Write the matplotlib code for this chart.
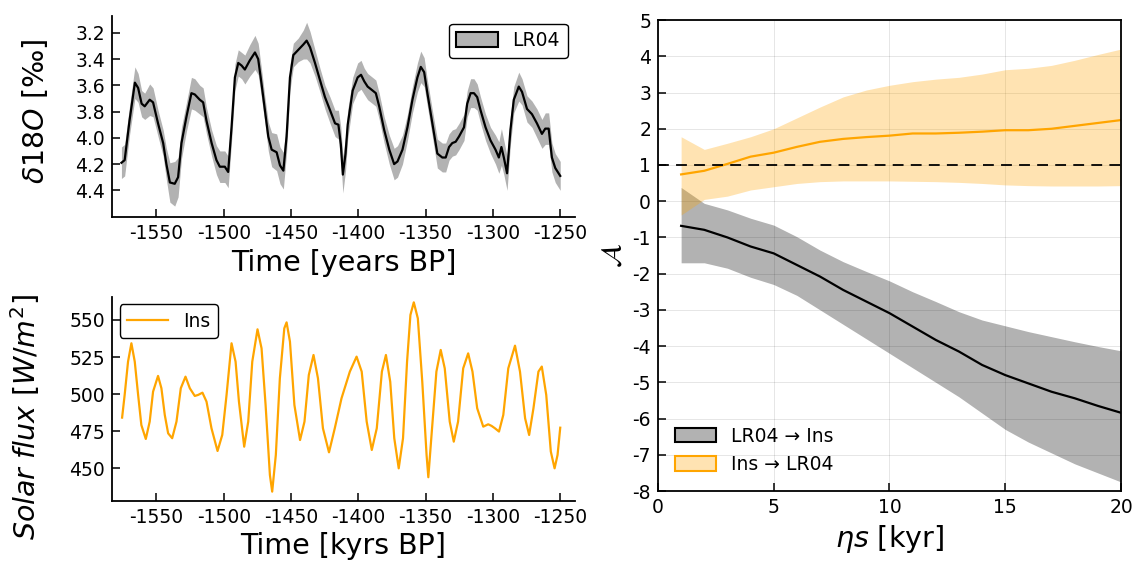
import numpy as np
import matplotlib.pyplot as plt
from matplotlib.patches import Patch
from matplotlib.lines import Line2D

plt.rcParams['axes.unicode_minus'] = False

# LR04 d18O stack (years BP), value and band half-width
lr04_t = [-1576, -1573.6, -1570, -1566, -1563.6, -1561, -1558.7, -1555, -1552.5, -1548.8,
          -1545, -1542.6, -1540, -1536.4, -1533.9, -1531.4, -1527.7, -1524, -1521.5, -1517.8,
          -1515.3, -1512.8, -1509, -1505.4, -1502.9, -1499.2, -1496.7, -1494.2, -1491.7, -1489.2,
          -1486.7, -1484.3, -1480.6, -1476.8, -1474.4, -1471.9, -1469.4, -1466.9, -1464.4, -1460.7,
          -1458.2, -1455.7, -1453.3, -1450.8, -1448.3, -1444.6, -1440.9, -1438.4, -1435.9, -1432.2,
          -1428.5, -1424.8, -1421, -1417.3, -1414.8, -1413, -1411.5, -1409.5, -1407.9, -1404.2,
          -1400.5, -1398, -1395.6, -1393.1, -1389.4, -1387, -1384.5, -1380.8, -1377, -1373.4,
          -1370.9, -1367.2, -1363.5, -1359.8, -1356.1, -1353.6, -1351.1, -1348.7, -1345, -1341.3,
          -1337.6, -1335.1, -1332.6, -1330.2, -1327.7, -1325.2, -1321.5, -1319.1, -1316.6, -1314.1,
          -1311.7, -1309.2, -1305.5, -1301.8, -1298.1, -1295.6, -1293.7, -1291.9, -1289.5, -1287,
          -1284.5, -1280.8, -1278.4, -1274.7, -1271, -1267.3, -1263.6, -1261.1, -1258.6, -1256.2,
          -1253.7, -1250]
lr04_v = [4.19, 4.17, 3.87, 3.58, 3.62, 3.74, 3.76, 3.71, 3.73, 3.89,
          4.04, 4.20, 4.34, 4.35, 4.30, 4.04, 3.84, 3.66, 3.67, 3.71,
          3.73, 3.87, 4.04, 4.17, 4.22, 4.22, 4.26, 3.92, 3.54, 3.43,
          3.45, 3.48, 3.41, 3.35, 3.40, 3.59, 3.79, 3.99, 4.09, 4.11,
          4.21, 4.25, 3.99, 3.54, 3.37, 3.33, 3.29, 3.26, 3.31, 3.43,
          3.56, 3.69, 3.79, 3.89, 3.90, 4.05, 4.28, 4.12, 3.90, 3.64,
          3.54, 3.52, 3.57, 3.61, 3.64, 3.66, 3.76, 3.94, 4.09, 4.20,
          4.18, 4.09, 3.92, 3.71, 3.54, 3.46, 3.50, 3.66, 3.89, 4.12,
          4.15, 4.15, 4.07, 4.04, 4.03, 3.99, 3.92, 3.74, 3.66, 3.66,
          3.69, 3.79, 3.92, 4.02, 4.09, 4.15, 4.07, 4.15, 4.27, 3.94,
          3.71, 3.61, 3.65, 3.78, 3.82, 3.89, 3.97, 3.93, 3.93, 4.15,
          4.23, 4.29]
lr04_err = [0.12, 0.12, 0.11, 0.12, 0.11, 0.10, 0.10, 0.12, 0.11, 0.10,
            0.10, 0.12, 0.15, 0.17, 0.15, 0.12, 0.11, 0.12, 0.12, 0.11,
            0.11, 0.10, 0.10, 0.11, 0.12, 0.12, 0.12, 0.11, 0.10, 0.10,
            0.10, 0.11, 0.12, 0.13, 0.12, 0.11, 0.10, 0.11, 0.13, 0.14,
            0.14, 0.14, 0.12, 0.10, 0.09, 0.09, 0.11, 0.14, 0.12, 0.10,
            0.09, 0.09, 0.10, 0.10, 0.11, 0.13, 0.14, 0.13, 0.11, 0.10,
            0.11, 0.11, 0.10, 0.10, 0.10, 0.10, 0.10, 0.10, 0.11, 0.12,
            0.12, 0.11, 0.10, 0.10, 0.11, 0.12, 0.11, 0.10, 0.10, 0.11,
            0.11, 0.11, 0.10, 0.10, 0.10, 0.10, 0.10, 0.10, 0.11, 0.11,
            0.10, 0.10, 0.10, 0.10, 0.11, 0.12, 0.14, 0.13, 0.13, 0.11,
            0.10, 0.11, 0.10, 0.10, 0.10, 0.11, 0.11, 0.12, 0.12, 0.11,
            0.11, 0.11]

# insolation
ins_t = [-1575.5, -1573.6, -1571.1, -1568.6, -1566.1, -1563.6, -1561.2, -1557.9, -1555, -1552.5,
         -1548.8, -1546.3, -1543.8, -1541.3, -1538.3, -1535.1, -1531.9, -1528.4, -1525.2, -1521.5,
         -1519, -1515.8, -1512.8, -1509.1, -1504.6, -1501.1, -1497.9, -1494.2, -1491.2, -1488.7,
         -1484.8, -1481.8, -1478.8, -1474.9, -1471.9, -1468.9, -1465.7, -1464, -1461.3, -1458.3,
         -1455, -1453.3, -1450.8, -1447.5, -1443.3, -1440, -1436.8, -1433.3, -1430, -1426.3,
         -1421.8, -1417.5, -1412.5, -1406.3, -1401.3, -1397.5, -1393.8, -1390, -1386.3, -1382.5,
         -1379.5, -1376.3, -1373.3, -1370, -1366.8, -1363.8, -1361.3, -1358.8, -1355.8, -1352.5,
         -1349.3, -1348, -1345.8, -1342, -1338.8, -1335.8, -1332.1, -1329.1, -1325.9, -1322.1,
         -1318.4, -1315.2, -1311.7, -1307.2, -1303.5, -1301, -1298.5, -1295.5, -1292.3, -1288.6,
         -1283.6, -1279.9, -1276.1, -1273.1, -1269.9, -1266.2, -1263.7, -1260.4, -1257, -1254.2,
         -1252, -1250]
ins_v = [484.2, 499.5, 521.9, 534.3, 521.9, 499.5, 479.2, 469.8, 481.5, 501.7,
         512.3, 504, 486, 473.6, 470.3, 481.5, 504, 511.8, 504, 498.8,
         499.5, 501, 495, 477, 461.7, 472.5, 499.5, 534.3, 521.9, 495,
         464.6, 481.5, 521.9, 543.7, 530.9, 492.7, 445.5, 434.3, 459, 510.7,
         544.4, 548.4, 535.4, 492.7, 469.1, 481.5, 512.9, 526.4, 510.7, 477,
         460.8, 477, 497.2, 515.2, 525.3, 515.2, 481.5, 462.4, 477, 515.2,
         526.4, 508.4, 470.3, 450, 470.3, 521.9, 553.4, 561.9, 551.1, 508.4,
         459, 444, 470.3, 515.2, 529.8, 517.4, 481.5, 468, 481.5, 517.4,
         527.5, 515.2, 490.5, 478.1, 479.7, 478.6, 477, 474.8, 486, 517.4,
         532.7, 515.2, 483.7, 472.5, 490.5, 515.2, 518.6, 499.5, 461.3, 450,
         459, 477.4]

# causal-strength panel
eta = list(range(1, 21))
a_lr = [-0.68, -0.79, -1.0, -1.25, -1.44, -1.76, -2.08, -2.45, -2.77, -3.09,
        -3.46, -3.83, -4.15, -4.52, -4.8, -5.03, -5.26, -5.44, -5.65, -5.84]
a_lr_hi = [0.38, -0.06, -0.24, -0.47, -0.66, -0.98, -1.35, -1.67, -1.94, -2.2,
           -2.5, -2.77, -3.05, -3.28, -3.44, -3.6, -3.74, -3.88, -4.01, -4.13]
a_lr_lo = [-1.7, -1.7, -1.85, -2.1, -2.3, -2.6, -3.0, -3.4, -3.8, -4.2,
           -4.6, -5.0, -5.4, -5.85, -6.3, -6.65, -6.95, -7.25, -7.5, -7.75]
a_ins = [0.74, 0.84, 1.03, 1.23, 1.34, 1.5, 1.64, 1.72, 1.77, 1.81,
         1.87, 1.87, 1.89, 1.92, 1.96, 1.96, 2.0, 2.08, 2.16, 2.24]
a_ins_hi = [1.78, 1.43, 1.6, 1.78, 2.0, 2.3, 2.6, 2.88, 3.07, 3.2,
            3.3, 3.37, 3.42, 3.51, 3.63, 3.67, 3.75, 3.89, 4.05, 4.2]
a_ins_lo = [-0.38, 0.05, 0.14, 0.31, 0.4, 0.49, 0.54, 0.56, 0.56, 0.56,
            0.55, 0.54, 0.52, 0.49, 0.45, 0.43, 0.42, 0.42, 0.42, 0.43]

orange = '#FFA500'
tick_fs = 13.5
lab_fs = 20.5

fig = plt.figure(figsize=(11.36, 5.66), dpi=100)
ax1 = fig.add_axes([0.0986, 0.6166, 0.4076, 0.355])
ax2 = fig.add_axes([0.0986, 0.1154, 0.4076, 0.3604])
ax3 = fig.add_axes([0.5792, 0.1325, 0.4076, 0.832])

t = np.array(lr04_t)
v = np.array(lr04_v)
e = np.array(lr04_err)
ax1.fill_between(t, v - e, v + e, color='k', alpha=0.3, lw=0)
ax1.plot(t, v, color='k', lw=1.6, solid_joinstyle='round')
ax1.set_xlim(-1583, -1239)
ax1.set_ylim(4.603, 3.073)
ax1.set_yticks([3.2, 3.4, 3.6, 3.8, 4.0, 4.2, 4.4])
ax1.set_yticklabels(['%.1f' % y for y in [3.2, 3.4, 3.6, 3.8, 4.0, 4.2, 4.4]])
ax1.set_xlabel('Time [years BP]', fontsize=lab_fs)
ax1.set_ylabel(r'$\delta 18O$ [‰]', fontsize=lab_fs)
ax1.yaxis.set_label_coords(-0.134, 0.525)
ax1.legend(handles=[Patch(facecolor=(0, 0, 0, 0.3), edgecolor='k', lw=1.5)], labels=['LR04'],
           loc='upper right', fontsize=tick_fs, fancybox=True, framealpha=1, edgecolor='k',
           handlelength=2.2, handleheight=0.8, borderaxespad=0.4)

ax2.plot(ins_t, ins_v, color=orange, lw=1.6, solid_joinstyle='round')
ax2.set_xlim(-1583, -1239)
ax2.set_ylim(428.2, 565.7)
ax2.set_yticks([450, 475, 500, 525, 550])
ax2.set_xlabel('Time [kyrs BP]', fontsize=lab_fs)
ax2.set_ylabel(r'$Solar\ flux\ [W/m^2]$', fontsize=lab_fs)
ax2.yaxis.set_label_coords(-0.151, 0.41)
ax2.legend(handles=[Line2D([], [], color=orange, lw=1.6)], labels=['Ins'],
           loc='upper left', fontsize=tick_fs, fancybox=True, framealpha=1, edgecolor='k',
           handlelength=2.2, borderaxespad=0.4)

for ax in (ax1, ax2):
    ax.spines['top'].set_visible(False)
    ax.spines['right'].set_visible(False)
    ax.set_xticks([-1550, -1500, -1450, -1400, -1350, -1300, -1250])

for ax in (ax1, ax2, ax3):
    for s in ax.spines.values():
        s.set_linewidth(1.3)
    ax.tick_params(direction='in', length=6, width=1.1, labelsize=tick_fs,
                   top=False, right=False, pad=5)

ax3.fill_between(eta, a_lr_lo, a_lr_hi, color='k', alpha=0.3, lw=0)
ax3.fill_between(eta, a_ins_lo, a_ins_hi, color=orange, alpha=0.3, lw=0)
ax3.plot(eta, a_lr, color='k', lw=1.6)
ax3.plot(eta, a_ins, color=orange, lw=1.6)
ax3.axhline(1, color='k', ls='--', lw=1.3, dashes=(6, 4))
ax3.set_xlim(0, 20)
ax3.set_ylim(-8, 5)
ax3.set_xticks([0, 5, 10, 15, 20])
ax3.set_yticks(list(range(-8, 6)))
ax3.grid(True, color='k', alpha=0.1, lw=0.7)
ax3.set_axisbelow(True)
ax3.set_xlabel(r'$\eta s$ [kyr]', fontsize=lab_fs)
ax3.set_ylabel(r'$\mathcal{A}$', fontsize=lab_fs)
ax3.legend(handles=[Patch(facecolor=(0, 0, 0, 0.3), edgecolor='k', lw=1.5),
                    Patch(facecolor=(1, 0.647, 0, 0.3), edgecolor=orange, lw=1.5)],
           labels=['LR04 → Ins', 'Ins → LR04'], loc='lower left', frameon=False,
           fontsize=tick_fs, handlelength=2.2, handleheight=0.8)

fig.savefig('out.png', dpi=100)
